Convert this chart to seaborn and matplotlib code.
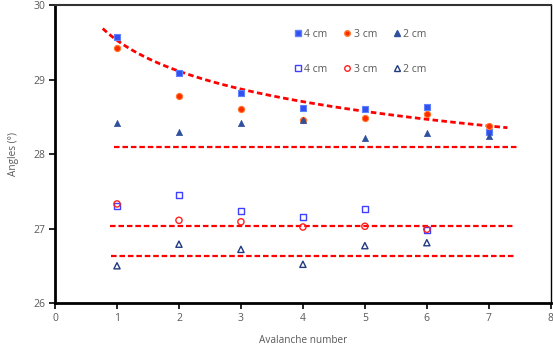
import numpy as np
import pandas as pd
import matplotlib
matplotlib.use('Agg')
import matplotlib.pyplot as plt
import seaborn as sns

# avalanche number
avalanche = [1, 2, 3, 4, 5, 6, 7]
avalanche_open = [1, 2, 3, 4, 5, 6]

# filled markers
sq4_filled = [29.57, 29.09, 28.82, 28.62, 28.60, 28.63, 28.30]
ci3_filled = [29.42, 28.78, 28.60, 28.46, 28.48, 28.54, 28.38]
tr2_filled = [28.42, 28.30, 28.42, 28.45, 28.22, 28.28, 28.24]

# open markers
sq4_open = [27.30, 27.45, 27.23, 27.15, 27.26, 26.98]
ci3_open = [27.33, 27.11, 27.09, 27.02, 27.03, 26.99]
tr2_open = [26.50, 26.79, 26.72, 26.52, 26.77, 26.81]

# horizontal trend levels
levels = [28.10, 27.04, 26.63]

sns.set_style('white')
plt.rcParams['font.family'] = ['Open Sans', 'DejaVu Sans']

fig = plt.figure(figsize=(5.53, 3.58), dpi=100)
ax = fig.add_axes([0.0995, 0.1536, 0.8965, 0.8324])

gray = '#595959'
blue = '#3050F0'
red = '#FF2A00'
navy = '#2F4F9F'

# power-law trend through the filled 4 cm points
b, log_a = np.polyfit(np.log(avalanche), np.log(sq4_filled), 1)
xc = np.linspace(0.77, 7.3, 80)
trend = pd.DataFrame({'x': xc, 'y': np.exp(log_a) * xc ** b})
sns.lineplot(data=trend, x='x', y='y', ax=ax, color='#FF0000', lw=2,
             linestyle=(0, (2, 1.2)), zorder=1)

for lv, x0, x1 in zip(levels, [0.95, 0.89, 0.9], [7.47, 7.42, 7.42]):
    sns.lineplot(x=[x0, x1], y=[lv, lv], ax=ax, color='#FF0000', lw=1.6,
                 linestyle=(0, (2.5, 1.3)), zorder=1)

sns.scatterplot(x=avalanche, y=sq4_filled, ax=ax, marker='s', s=22,
                color=blue, edgecolor='#6080FF', linewidth=0.8, zorder=3)
sns.scatterplot(x=avalanche, y=ci3_filled, ax=ax, marker='o', s=20,
                color=red, edgecolor='#FF7A30', linewidth=0.8, zorder=3)
sns.scatterplot(x=avalanche, y=tr2_filled, ax=ax, marker='^', s=20,
                color=navy, edgecolor=navy, linewidth=0.5, zorder=3)
sns.scatterplot(x=avalanche_open, y=sq4_open, ax=ax, marker='s', s=20,
                facecolor='none', edgecolor='#4040FF', linewidth=1.0, zorder=3)
sns.scatterplot(x=avalanche_open, y=ci3_open, ax=ax, marker='o', s=20,
                facecolor='none', edgecolor='#FF2020', linewidth=1.0, zorder=3)
sns.scatterplot(x=avalanche_open, y=tr2_open, ax=ax, marker='^', s=20,
                facecolor='none', edgecolor='#203A80', linewidth=1.0, zorder=3)

ax.set_xlim(0, 8)
ax.set_ylim(26, 30)
ax.set_xticks(range(0, 9))
ax.set_yticks([26, 27, 28, 29, 30])
ax.tick_params(axis='both', direction='out', length=4, width=1.2, colors='black',
               labelcolor=gray, labelsize=7.5, pad=3, left=True, bottom=True)

for side in ['left', 'bottom']:
    ax.spines[side].set_linewidth(2)
    ax.spines[side].set_color('black')
ax.spines['top'].set_linewidth(1.5)
ax.spines['top'].set_color('#333333')
ax.spines['right'].set_linewidth(1)
ax.spines['right'].set_color('black')

ax.set_xlabel('Avalanche number', color=gray, fontsize=7.2, labelpad=8)
ax.set_ylabel('Angles (°)', color=gray, fontsize=7.2, labelpad=10)

# legend: first row filled, second row open
mk = dict(linestyle='none', markersize=4)
handles = [
    plt.Line2D([], [], marker='s', color=blue, mec='#6080FF', **mk),
    plt.Line2D([], [], marker='s', mfc='none', mec='#4040FF', **mk),
    plt.Line2D([], [], marker='o', color=red, mec='#FF7A30', **mk),
    plt.Line2D([], [], marker='o', mfc='none', mec='#FF2020', **mk),
    plt.Line2D([], [], marker='^', color=navy, **mk),
    plt.Line2D([], [], marker='^', mfc='none', mec='#203A80', **mk),
]
labels = ['4 cm', '4 cm', '3 cm', '3 cm', '2 cm', '2 cm']
ax.legend(handles, labels, ncol=3, loc='upper left', bbox_to_anchor=(0.465, 0.952),
          frameon=False, fontsize=7.5, labelcolor=gray, labelspacing=2.3,
          handlelength=0.6, handletextpad=0.3, columnspacing=1.6)

fig.savefig('out.png', dpi=100)
